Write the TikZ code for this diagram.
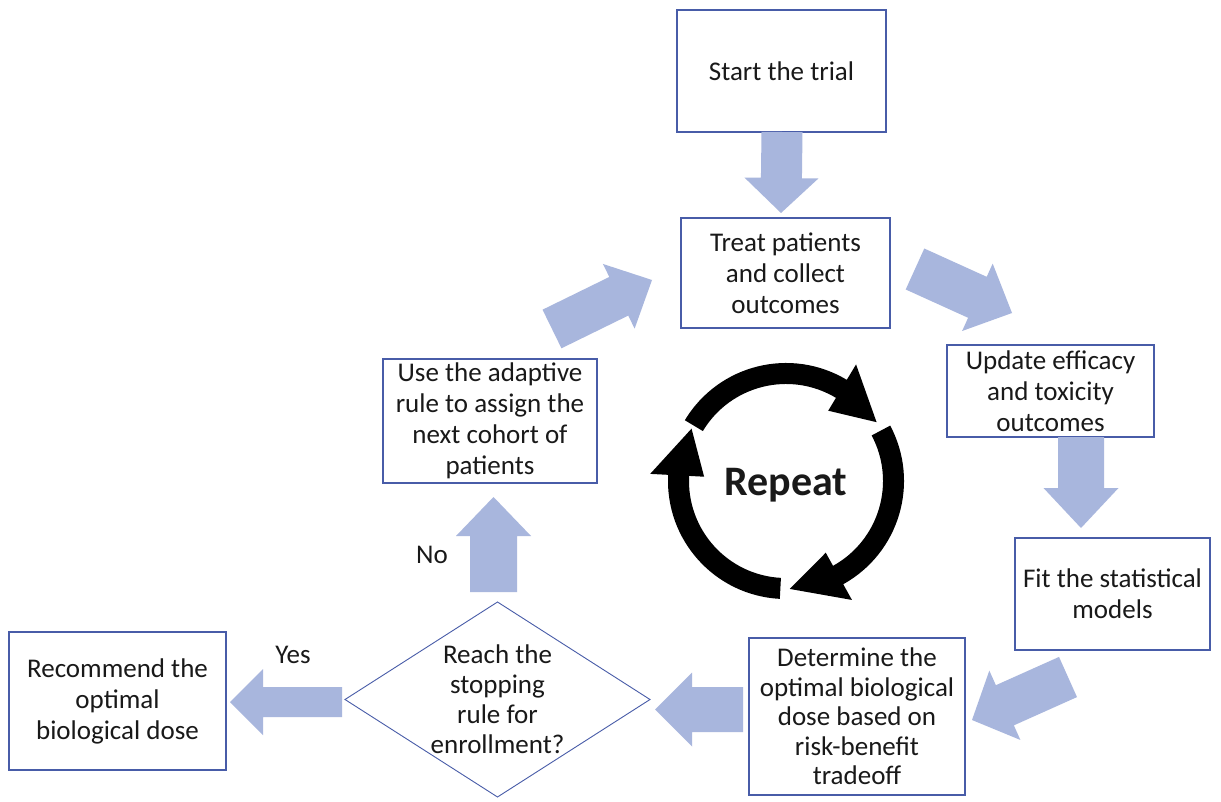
\documentclass[tikz,border=0pt]{standalone}
\usepackage{fontspec}
\setmainfont{Carlito}
\usetikzlibrary{calc}
\definecolor{boxblue}{RGB}{72,92,168}
\definecolor{arrowfill}{RGB}{168,182,221}
\definecolor{txtcol}{RGB}{25,25,25}
% block arrow: tail, tip, shaft half width, head half width, head length
\newcommand\blockarr[5]{%
  \coordinate (bah) at ($(#2)!#5!(#1)$);
  \fill[arrowfill] ($(#1)!#3!90:(#2)$) -- ($(bah)!#3!90:(#2)$) -- ($(bah)!#4!90:(#2)$) -- (#2)
    -- ($(bah)!#4!-90:(#2)$) -- ($(bah)!#3!-90:(#2)$) -- ($(#1)!#3!-90:(#2)$) -- cycle;}
% circular arrow: tail angle, head base angle, tip angle
\newcommand\cycarr[3]{%
  \fill[black] (#1:118) arc[start angle=#1, end angle=#2, radius=118] -- (#2:136) -- (#3:108)
    -- (#2:82) -- (#2:97) arc[start angle=#2, end angle=#1, radius=97] -- cycle;}
\begin{document}
\begin{tikzpicture}[x=1pt,y=-1pt,
  box/.style={draw=boxblue, line width=1.3pt, inner sep=0pt, outer sep=0pt, align=center,
    text=txtcol, font=\fontsize{27}{31}\selectfont},
  lbl/.style={inner sep=0pt, text=txtcol, font=\fontsize{27}{31}\selectfont}]
\fill[white] (0,0) rectangle (1221,802);
\useasboundingbox (0,0) rectangle (1221,802);

% boxes
\node[box, minimum width=209pt, minimum height=122pt] (start) at (781.5,71) {\raisebox{-9pt}{Start the trial}};
\node[box, minimum width=209pt, minimum height=110pt] (treat) at (785.5,273) {Treat patients\\and collect\\outcomes};
\node[box, minimum width=207pt, minimum height=92pt] (update) at (1050.5,391) {Update efficacy\\and toxicity\\outcomes};
\node[box, minimum width=195pt, minimum height=112pt] (fit) at (1112.5,594) {Fit the statistical\\models};
\node[box, minimum width=216pt, minimum height=157pt, font=\fontsize{27}{29.5}\selectfont] (det) at (857,716.5) {Determine the\\optimal biological\\dose based on\\risk-benefit\\tradeoff};
\node[box, minimum width=217pt, minimum height=138pt] (rec) at (117.5,701) {Recommend the\\optimal\\biological dose};
\node[box, minimum width=214pt, minimum height=124pt] (use) at (490,421) {Use the adaptive\\rule to assign the\\next cohort of\\patients};
\node[box, draw=none, minimum width=305pt, minimum height=195pt, font=\fontsize{27}{30}\selectfont] (dia) at (497.5,699.5) {Reach the\\stopping\\rule for\\enrollment?};
\draw[boxblue, line width=0.9pt] (dia.north) -- (dia.east) -- (dia.south) -- (dia.west) -- cycle;

% connector coordinates
\coordinate (a1t) at (782,132);  \coordinate (a1h) at (781,213);
\coordinate (a2t) at (915,269);  \coordinate (a2h) at (1012,313);
\coordinate (a3t) at (1081,437); \coordinate (a3h) at (1081,528);
\coordinate (a4t) at (1068,677); \coordinate (a4h) at (972,720);
\coordinate (a5t) at (743,709.5); \coordinate (a5h) at (655,709.5);
\coordinate (a6t) at (342,702);  \coordinate (a6h) at (230,702);
\coordinate (a7t) at (493.5,592); \coordinate (a7h) at (493.5,497);
\coordinate (a8t) at (552,329);  \coordinate (a8h) at (652,280);

\blockarr{a1t}{a1h}{20.5pt}{37pt}{35pt}
\blockarr{a2t}{a2h}{22.5pt}{37pt}{38pt}
\blockarr{a3t}{a3h}{23pt}{37.5pt}{40pt}
\blockarr{a4t}{a4h}{22pt}{38pt}{36pt}
\blockarr{a5t}{a5h}{22.5pt}{37pt}{37pt}
\blockarr{a6t}{a6h}{15pt}{33pt}{33pt}
\blockarr{a7t}{a7h}{23.5pt}{37.5pt}{39pt}
\blockarr{a8t}{a8h}{21.5pt}{36pt}{37pt}

% labels
\node[lbl] (yes) at (293,655) {Yes};
\node[lbl] (no) at (432,555) {No};

% repeat cycle
\begin{scope}[shift={(786,481)}, yscale=-1]
  \cycarr{149}{59}{33}
  \cycarr{28}{-61}{-88}
  \cycarr{-93}{-183}{-209}
\end{scope}
\node[inner sep=0pt, anchor=base, font=\fontsize{42}{48}\selectfont\bfseries, text=txtcol] (rep) at (786,495) {Repeat};
\end{tikzpicture}
\end{document}
